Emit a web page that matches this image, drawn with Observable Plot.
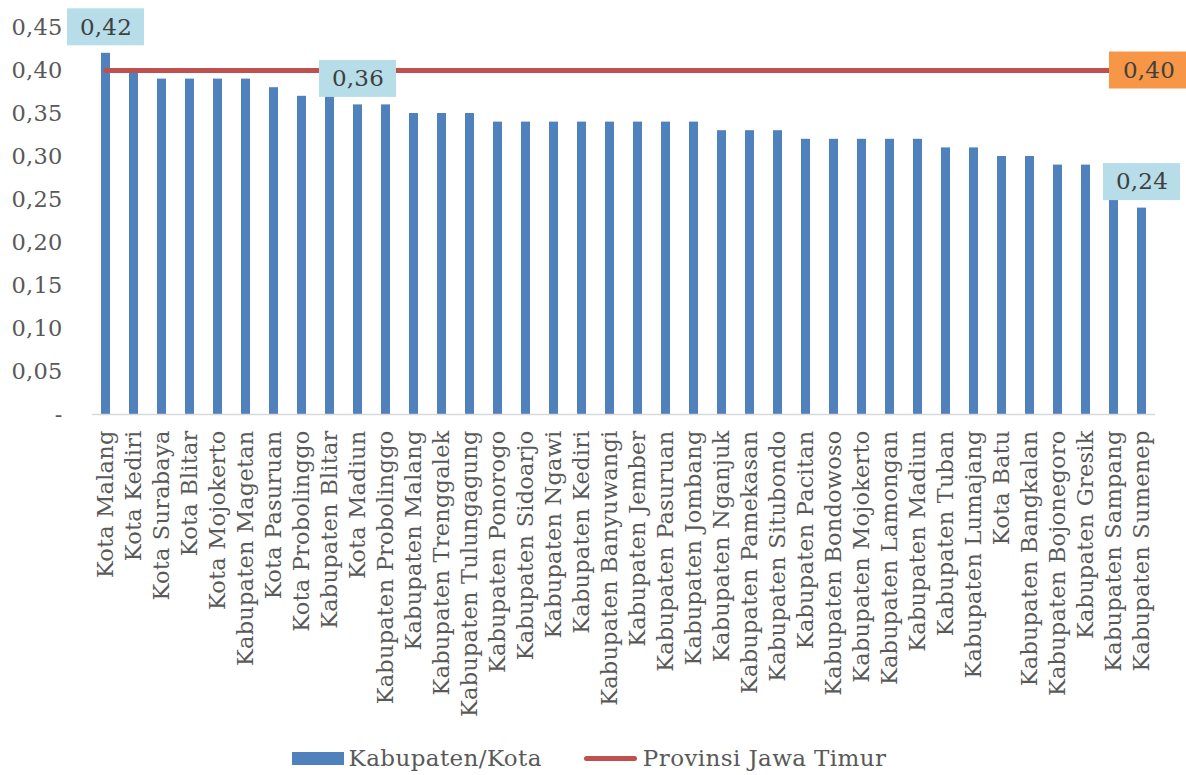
<!DOCTYPE html>
<html>
<head>
<meta charset="utf-8">
<script src="https://cdn.jsdelivr.net/npm/d3@7"></script>
<script src="https://cdn.jsdelivr.net/npm/@observablehq/plot@0.6"></script>
<style>
  html, body { margin: 0; padding: 0; background: #fff; }
  #chart { width: 1186px; }
  .legend { display: flex; justify-content: center; align-items: center; height: 36px; padding-right: 8px;
    font-family: "DejaVu Serif", serif; font-size: 23px; letter-spacing: 0.4px; color: #595959; }
  .legend .item { display: flex; align-items: center; }
  .legend .sw-bar { width: 52px; height: 13px; background: #4F81BD; margin-right: 5px; }
  .legend .sw-line { width: 53px; height: 5px; border-radius: 3px; background: #C0504D; margin-right: 6px; }
</style>
</head>
<body>
<div id="chart"></div>
<script>
const categories = [
  "Kota Malang", "Kota Kediri", "Kota Surabaya", "Kota Blitar", "Kota Mojokerto",
  "Kabupaten Magetan", "Kota Pasuruan", "Kota Probolinggo", "Kabupaten Blitar", "Kota Madiun",
  "Kabupaten Probolinggo", "Kabupaten Malang", "Kabupaten Trenggalek", "Kabupaten Tulungagung",
  "Kabupaten Ponorogo", "Kabupaten Sidoarjo", "Kabupaten Ngawi", "Kabupaten Kediri",
  "Kabupaten Banyuwangi", "Kabupaten Jember", "Kabupaten Pasuruan", "Kabupaten Jombang",
  "Kabupaten Nganjuk", "Kabupaten Pamekasan", "Kabupaten Situbondo", "Kabupaten Pacitan",
  "Kabupaten Bondowoso", "Kabupaten Mojokerto", "Kabupaten Lamongan", "Kabupaten Madiun",
  "Kabupaten Tuban", "Kabupaten Lumajang", "Kota Batu", "Kabupaten Bangkalan",
  "Kabupaten Bojonegoro", "Kabupaten Gresik", "Kabupaten Sampang", "Kabupaten Sumenep"
];
const values = [
  0.42, 0.40, 0.39, 0.39, 0.39,
  0.39, 0.38, 0.37, 0.37, 0.36,
  0.36, 0.35, 0.35, 0.35,
  0.34, 0.34, 0.34, 0.34,
  0.34, 0.34, 0.34, 0.34,
  0.33, 0.33, 0.33, 0.32,
  0.32, 0.32, 0.32, 0.32,
  0.31, 0.31, 0.30, 0.30,
  0.29, 0.29, 0.25, 0.24
];
const provinsi = 0.40;
const labelled = ["Kota Malang", "Kota Madiun", "Kabupaten Sumenep"];
const yTickValues = [0, 0.05, 0.10, 0.15, 0.20, 0.25, 0.30, 0.35, 0.40, 0.45];
const yTickLabels = ["-", "0,05", "0,10", "0,15", "0,20", "0,25", "0,30", "0,35", "0,40", "0,45"];
const seriesNames = ["Kabupaten/Kota", "Provinsi Jawa Timur"];

const fmt = v => v.toFixed(2).replace(".", ",");
const rows = categories.map((c, i) => ({ cat: c, value: values[i] }));
const labelRows = rows.filter(r => labelled.includes(r.cat));
const provRows = categories.map(c => ({ cat: c, value: provinsi }));
const provLabel = [{ cat: categories[categories.length - 1], value: provinsi }];

const plot = Plot.plot({
  width: 1186,
  height: 740,
  marginLeft: 92,
  marginRight: 31,
  marginTop: 27,
  marginBottom: 326,
  style: { fontFamily: "DejaVu Serif, serif", fontSize: "22.5px", letterSpacing: "0.2px", color: "#595959", background: "#fff" },
  x: { domain: categories, paddingInner: 0.68, paddingOuter: 0.32, label: null },
  y: { domain: [0, 0.45], label: null },
  marks: [
    Plot.axisY({ ticks: yTickValues, tickFormat: d => yTickLabels[yTickValues.indexOf(d)], tickSize: 0, tickPadding: 30, fill: "#595959" }),
    Plot.axisX({ tickRotate: -90, tickSize: 0, tickPadding: 16, fill: "#595959" }),
    Plot.barY(rows, { x: "cat", y: "value", fill: "#4F81BD" }),
    Plot.ruleY([0], { stroke: "#D9D9D9", strokeWidth: 1.5 }),
    Plot.lineY(provRows, { x: "cat", y: "value", stroke: "#C0504D", strokeWidth: 5, strokeLinecap: "round" }),
    Plot.barY(labelRows, { x: "cat", y1: "value", y2: "value", fill: "#B7DDE8", insetLeft: -34, insetRight: -34, insetTop: -44.5, insetBottom: 7.5 }),
    Plot.text(labelRows, { x: "cat", y: "value", text: d => fmt(d.value), dy: -26, fill: "#404040", fontSize: 23 }),
    Plot.barY(provLabel, { x: "cat", y1: "value", y2: "value", fill: "#F79646", insetLeft: -28, insetRight: -41, insetTop: -18.5, insetBottom: -18.5 }),
    Plot.text(provLabel, { x: "cat", y: "value", text: d => fmt(d.value), dx: 7, fill: "#404040", fontSize: 23 })
  ]
});
document.getElementById("chart").appendChild(plot);

const legend = document.createElement("div");
legend.className = "legend";
legend.innerHTML = `
  <div class="item" style="margin-right:42px"><div class="sw-bar"></div><span>${seriesNames[0]}</span></div>
  <div class="item"><div class="sw-line"></div><span>${seriesNames[1]}</span></div>`;
document.getElementById("chart").appendChild(legend);
</script>
</body>
</html>
